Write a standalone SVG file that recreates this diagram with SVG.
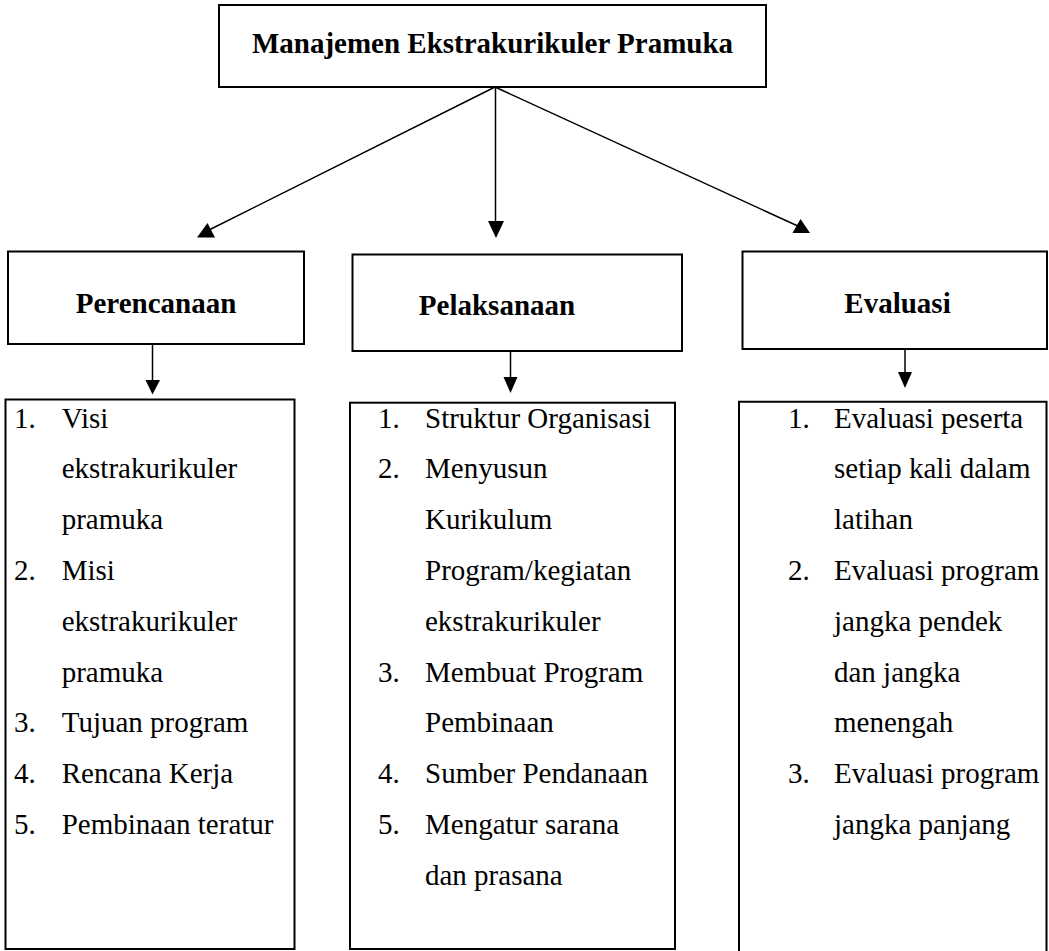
<svg xmlns="http://www.w3.org/2000/svg" width="1049" height="951" viewBox="0 0 1049 951">
<style>
.box{fill:#fff;stroke:#000;stroke-width:2}
.open{fill:none;stroke:#000;stroke-width:2}
.title{font-family:"Liberation Serif","Times New Roman",serif;font-weight:bold;font-size:29px;fill:#000;text-anchor:middle}
.item{font-family:"Liberation Serif","Times New Roman",serif;font-size:29px;fill:#000}
.line{stroke:#000;stroke-width:1.5;fill:none}
.head{fill:#000}
</style>
<rect width="1049" height="951" fill="#fff"/>
<g id="connectors">
<line class="line" x1="495" y1="87" x2="209" y2="230"/>
<polygon class="head" points="197,237.5 215,237.5 207.5,223"/>
<line class="line" x1="495.5" y1="87" x2="495.5" y2="222"/>
<polygon class="head" points="488,221 504,221 496,238"/>
<line class="line" x1="495" y1="87" x2="800" y2="227"/>
<polygon class="head" points="792.5,233 810,233 800.5,219"/>
<line class="line" x1="152.5" y1="344" x2="152.5" y2="381"/>
<polygon class="head" points="145.5,380 160,380 152.5,394.5"/>
<line class="line" x1="510.5" y1="351" x2="510.5" y2="378"/>
<polygon class="head" points="503.5,377 517.5,377 510.5,393"/>
<line class="line" x1="905" y1="347" x2="905" y2="373"/>
<polygon class="head" points="898,372 912,372 905,388"/>
</g>
<g id="node-root">
<rect class="box" x="219" y="5" width="547" height="82"/>
<text class="title" x="492.5" y="53">Manajemen Ekstrakurikuler Pramuka</text>
</g>
<g id="node-perencanaan">
<rect class="box" x="8" y="251.5" width="296" height="92.5"/>
<text class="title" x="156" y="313">Perencanaan</text>
</g>
<g id="node-pelaksanaan">
<rect class="box" x="352.5" y="254.5" width="329.5" height="96.5"/>
<text class="title" x="497" y="315">Pelaksanaan</text>
</g>
<g id="node-evaluasi">
<rect class="box" x="742.5" y="251.5" width="304.5" height="97.5"/>
<text class="title" x="897.5" y="313">Evaluasi</text>
</g>
<g id="node-perencanaan-list">
<rect class="box" x="5.5" y="399.5" width="289" height="549.5"/>
<g class="item">
<text x="14" y="427.5">1.</text><text x="61.7" y="427.5">Visi</text>
<text x="61.7" y="478.3">ekstrakurikuler</text>
<text x="61.7" y="529.1">pramuka</text>
<text x="14" y="579.9">2.</text><text x="61.7" y="579.9">Misi</text>
<text x="61.7" y="630.7">ekstrakurikuler</text>
<text x="61.7" y="681.5">pramuka</text>
<text x="14" y="732.3">3.</text><text x="61.7" y="732.3">Tujuan program</text>
<text x="14" y="783.1">4.</text><text x="61.7" y="783.1">Rencana Kerja</text>
<text x="14" y="833.9">5.</text><text x="61.7" y="833.9">Pembinaan teratur</text>
</g>
</g>
<g id="node-pelaksanaan-list">
<rect class="box" x="350" y="402.7" width="325" height="546.3"/>
<g class="item">
<text x="378" y="427.5">1.</text><text x="425" y="427.5">Struktur Organisasi</text>
<text x="378" y="478.3">2.</text><text x="425" y="478.3">Menyusun</text>
<text x="425" y="529.1">Kurikulum</text>
<text x="425" y="579.9">Program/kegiatan</text>
<text x="425" y="630.7">ekstrakurikuler</text>
<text x="378" y="681.5">3.</text><text x="425" y="681.5">Membuat Program</text>
<text x="425" y="732.3">Pembinaan</text>
<text x="378" y="783.1">4.</text><text x="425" y="783.1">Sumber Pendanaan</text>
<text x="378" y="833.9">5.</text><text x="425" y="833.9">Mengatur sarana</text>
<text x="425" y="884.7">dan prasana</text>
</g>
</g>
<g id="node-evaluasi-list">
<path class="open" d="M739,953 V401.7 H1046.5 V953"/>
<g class="item">
<text x="788" y="427.5">1.</text><text x="834" y="427.5">Evaluasi peserta</text>
<text x="834" y="478.3">setiap kali dalam</text>
<text x="834" y="529.1">latihan</text>
<text x="788" y="579.9">2.</text><text x="834" y="579.9">Evaluasi program</text>
<text x="834" y="630.7">jangka pendek</text>
<text x="834" y="681.5">dan jangka</text>
<text x="834" y="732.3">menengah</text>
<text x="788" y="783.1">3.</text><text x="834" y="783.1">Evaluasi program</text>
<text x="834" y="833.9">jangka panjang</text>
</g>
</g>
</svg>
